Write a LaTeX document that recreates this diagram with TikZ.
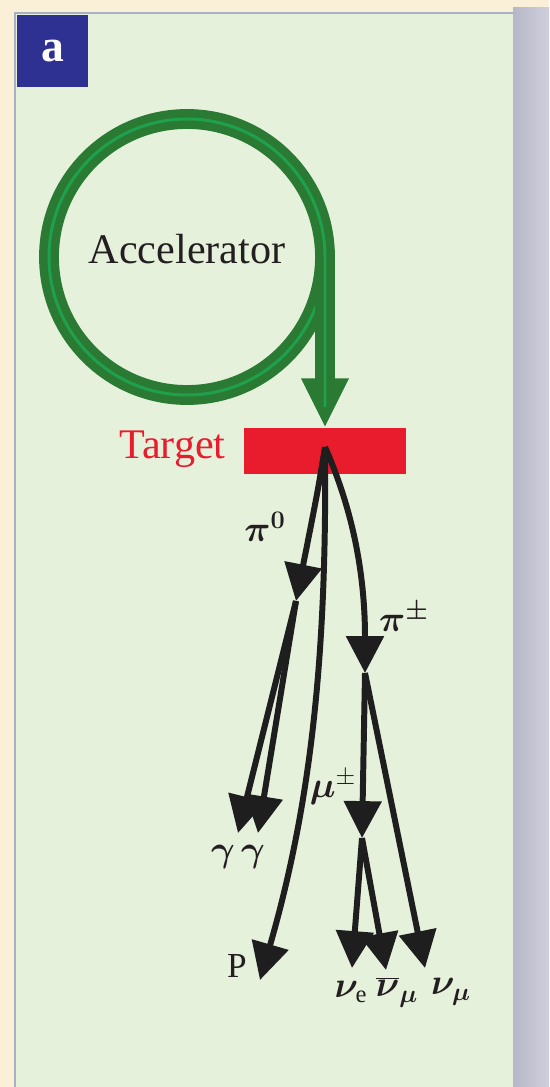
\documentclass[tikz,border=0pt]{standalone}
\usepackage{fontspec}
\setmainfont{Liberation Serif}
\usepackage{bm}
\usetikzlibrary{arrows.meta, calc}
\definecolor{cream}{HTML}{FAF0D7}
\definecolor{panelgreen}{HTML}{E6F1DC}
\definecolor{panelline}{HTML}{A9AFC8}
\definecolor{shadowdark}{HTML}{B7B7CA}
\definecolor{shadowlight}{HTML}{CFCFDC}
\definecolor{tagblue}{HTML}{2E3191}
\definecolor{ringgreen}{HTML}{2B7A33}
\definecolor{coregreen}{HTML}{1FA04C}
\definecolor{targetred}{HTML}{E91C2D}
\definecolor{inkblack}{HTML}{1E1E1E}
\definecolor{labelink}{HTML}{231F20}

\begin{document}
\begin{tikzpicture}[
    x=0.02cm, y=-0.02cm,
    beam/.style={line width=11.3pt, color=ringgreen},
    core/.style={line width=1.7pt, color=coregreen},
    track/.style={line width=3.4pt, color=inkblack,
                  -{Triangle[length=21pt, width=21pt]}},
    lbl/.style={font=\fontsize{20}{24}\selectfont, text=labelink, inner sep=0pt},
    word/.style={font=\fontsize{24}{28}\selectfont, inner sep=0pt},
]
\useasboundingbox (0,0) rectangle (549,1087);
% page and panel
\fill[cream] (0,0) rectangle (549,1087);
\shade[left color=shadowdark, right color=shadowlight] (513,8) rectangle (549,1087);
\fill[panelgreen] (15,13) rectangle (513,1087);
\draw[panelline, line width=1pt] (15,1087) -- (15,13) -- (513,13);
\node[fill=tagblue, minimum width=1.42cm, minimum height=1.44cm, inner sep=0pt,
      text=white, font=\bfseries\fontsize{26}{28}\selectfont] (tag) at (52.5,51) {a};

% accelerator ring and beam line
\coordinate (ring) at (187,257);
\coordinate (exit) at (325,257);
\node[word, text=labelink] (acc) at (187,249) {Accelerator};
\node[fill=targetred, minimum width=3.24cm, minimum height=0.92cm, inner sep=0pt]
      (target) at (325,451) {};
\node[word, text=targetred, anchor=east] (tlabel) at (226,449) {Target};
\draw[beam] (ring) circle[radius=138];
\draw[core] (ring) circle[radius=138];
\draw[beam, -{Triangle[length=28pt, width=25pt]}] (exit) -- (target.north);
\draw[core] (exit) -- ($(exit)!0.88!(target.north)$);

% decay points and track ends
\coordinate (src) at (325,447);
\coordinate (pz) at (296,601);
\coordinate (pc) at (365,673);
\coordinate (mu) at (362,838);
\coordinate (g1) at (238,833);
\coordinate (g2) at (258,833);
\coordinate (pend) at (260,980);
\coordinate (ne) at (352,968);
\coordinate (nmb) at (386,970);
\coordinate (nm) at (425,968);

% tracks
\draw[track] (src) .. controls (318,490) .. (pz);
\draw[track] (src) .. controls (355,515) and (365,580) .. (pc);
\draw[track] (src) .. controls (327,650) and (312,800) .. (pend);
\foreach \gg in {g1, g2} {
    \draw[track] (pz) -- (\gg);
}
\draw[track] (pc) -- (mu);
\draw[track] (pc) -- (nm);
\foreach \nn in {ne, nmb} {
    \draw[track] (mu) -- (\nn);
}

% labels
\node[lbl] (lpz) at (265,527) {$\bm{\pi^0}$};
\node[lbl] (lpc) at (404,617) {$\bm{\pi^\pm}$};
\node[lbl] (lmu) at (333,787) {$\bm{\mu}^\pm$};
\node[lbl] (lgg) at (238,857) {$\bm{\gamma}\,\bm{\gamma}$};
\node[lbl] (lp) at (237,966) {P};
\node[lbl] (lne) at (351,992) {$\bm{\nu}_{\mathrm{e}}$};
\node[lbl] (lnmb) at (397,992) {$\overline{\bm{\nu}}_{\bm{\mu}}$};
\node[lbl] (lnm) at (451,992) {$\bm{\nu}_{\bm{\mu}}$};
\end{tikzpicture}
\end{document}
